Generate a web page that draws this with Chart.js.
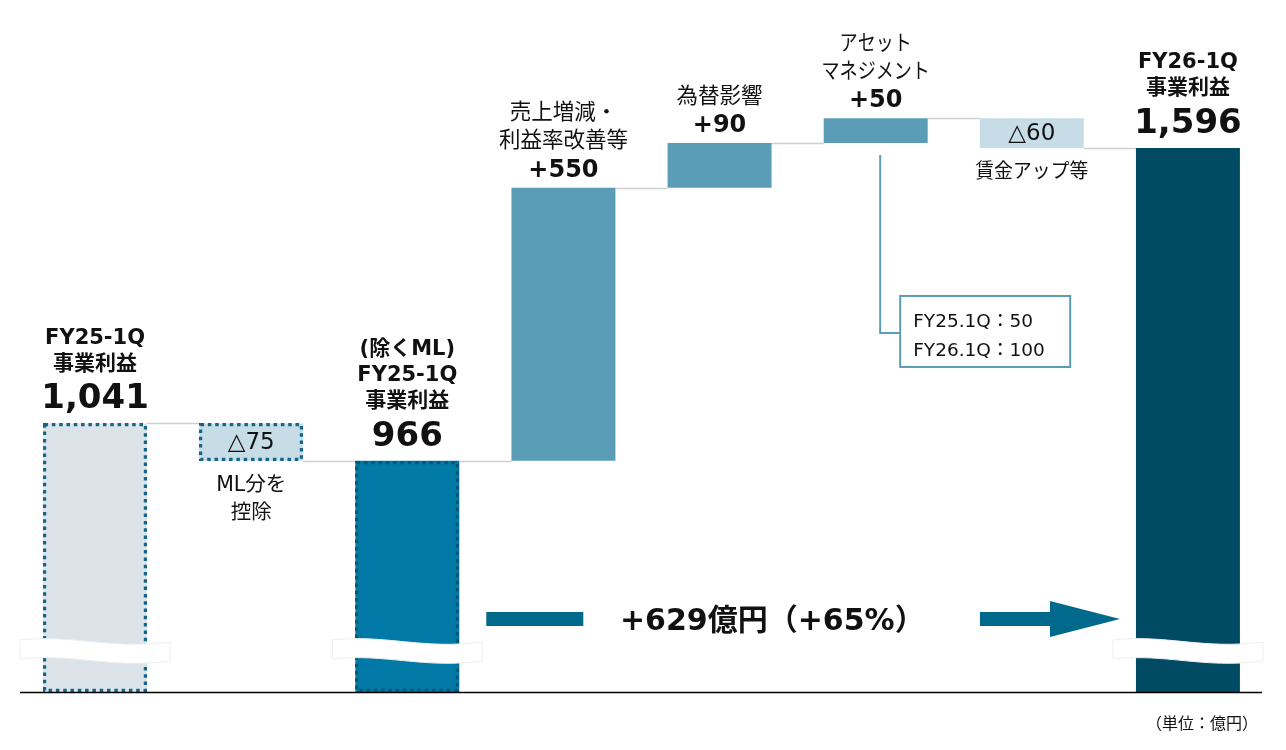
<!DOCTYPE html>
<html lang="ja">
<head>
<meta charset="utf-8">
<title>事業利益 増減要因</title>
<script src="https://cdn.jsdelivr.net/npm/chart.js@4.4.1/dist/chart.umd.min.js"></script>
<style>
  html, body { margin: 0; padding: 0; background: #fff; }
  #wrap { position: relative; width: 1286px; height: 750px; }
</style>
</head>
<body>
<div id="wrap"><canvas id="bridge"></canvas></div>
<script>
// 事業利益の増減（単位：億円）
const categories = ['FY25-1Q 事業利益', 'ML分を控除', '(除くML) FY25-1Q 事業利益', '売上増減・利益率改善等',
  '為替影響', 'アセットマネジメント', '賃金アップ等', 'FY26-1Q 事業利益'];
const amounts = [1041, -75, 966, 550, 90, 50, -60, 1596];
const isTotal = [true, false, true, false, false, false, false, true];
const headLines = [['FY25-1Q', '事業利益'], [], ['(除くML)', 'FY25-1Q', '事業利益'], ['売上増減・', '利益率改善等'],
  ['為替影響'], ['アセット', 'マネジメント'], [], ['FY26-1Q', '事業利益']];
const footLines = [[], ['ML分を', '控除'], [], [], [], [], ['賃金アップ等'], []];
const calloutLines = ['FY25.1Q：50', 'FY26.1Q：100'];
const growthLabel = '+629億円（+65%）';
const unitLabel = '（単位：億円）';
const axisFloor = 500;   // 軸は途中省略、ここから描く
const axisCeil = 1890;

// 積み上げ位置を計算
const ranges = [];
const levels = [];
let level = 0;
amounts.forEach((v, i) => {
  if (isTotal[i]) {
    ranges.push([axisFloor, v]);
    level = v;
  } else {
    ranges.push([level, level + v]);
    level += v;
  }
  levels.push(level);
});

const barColors = ['#dce4e9', '#c6dde7', '#0079a6', '#5b9cb6', '#5b9cb6', '#5b9cb6', '#c6dde7', '#004a64'];
const dotColors = ['#15658a', '#15658a', '#0a5676', null, null, null, null, null];
const FONT = '"DejaVu Sans", "Noto Sans CJK JP", sans-serif';

const fmtValue = (v, total) => total ? v.toLocaleString('en-US') : (v < 0 ? '△' + Math.abs(v) : '+' + v);

// カタカナは元資料のフォントより幅が広いので少し詰める
function drawText(ctx, str, x, y, size, bold, align) {
  ctx.font = (bold ? 'bold ' : '') + size + 'px ' + FONT;
  ctx.textAlign = align || 'center';
  ctx.textBaseline = 'middle';
  ctx.fillStyle = '#111';
  const kana = (str.match(/[\u30A1-\u30FA\u30FC]/g) || []).length;
  const sx = 1 - 0.16 * kana / str.length;
  ctx.save();
  ctx.translate(x, y);
  ctx.scale(sx, 1);
  ctx.fillText(str, 0, 0);
  ctx.restore();
}

function barBox(el) {
  const half = el.width / 2;
  return { l: el.x - half, r: el.x + half, t: Math.min(el.y, el.base), b: Math.max(el.y, el.base) };
}

const bridgeDecor = {
  id: 'bridgeDecor',
  beforeDatasetsDraw(chart) {
    const ctx = chart.ctx;
    const y = chart.scales.y;
    const bars = chart.getDatasetMeta(0).data;
    ctx.save();
    ctx.strokeStyle = '#cfcfcf';
    ctx.lineWidth = 1.5;
    for (let i = 0; i < bars.length - 1; i++) {
      const a = barBox(bars[i]), b = barBox(bars[i + 1]);
      const py = Math.round(y.getPixelForValue(levels[i])) + 0.5;
      ctx.beginPath();
      ctx.moveTo(a.r, py);
      ctx.lineTo(b.l, py);
      ctx.stroke();
    }
    ctx.restore();
  },
  afterDatasetsDraw(chart) {
    const ctx = chart.ctx;
    const area = chart.chartArea;
    const bars = chart.getDatasetMeta(0).data;
    ctx.save();

    // 点線の枠
    bars.forEach((el, i) => {
      if (!dotColors[i]) return;
      const bx = barBox(el);
      const l = Math.round(bx.l), t = Math.round(bx.t);
      const w = Math.round(bx.r) - l, h = Math.round(bx.b) - t;
      ctx.strokeStyle = dotColors[i];
      ctx.lineWidth = 3.2;
      ctx.setLineDash([3.5, 3.8]);
      ctx.strokeRect(l + 1.6, t + 1.6, w - 3.2, h - 3.2);
    });
    ctx.setLineDash([]);

    // 省略記号（波線）
    bars.forEach((el, i) => {
      if (!isTotal[i]) return;
      const x0 = el.x - 75, x1 = el.x + 75, w = x1 - x0;
      const t0 = area.bottom - 52, h = 19;
      ctx.beginPath();
      ctx.moveTo(x0, t0);
      ctx.bezierCurveTo(x0 + w * 0.35, t0 - 6, x0 + w * 0.6, t0 + 10, x1, t0 + 2);
      ctx.lineTo(x1, t0 + 2 + h);
      ctx.bezierCurveTo(x0 + w * 0.6, t0 + 10 + h, x0 + w * 0.35, t0 - 6 + h, x0, t0 + h);
      ctx.closePath();
      ctx.fillStyle = '#fff';
      ctx.fill();
      ctx.strokeStyle = '#eceff1';
      ctx.lineWidth = 1;
      ctx.stroke();
    });

    // 軸線
    ctx.strokeStyle = '#000';
    ctx.lineWidth = 1.5;
    ctx.beginPath();
    ctx.moveTo(area.left + 3, area.bottom + 0.5);
    ctx.lineTo(area.right - 4, area.bottom + 0.5);
    ctx.stroke();

    // ラベル
    bars.forEach((el, i) => {
      const bx = barBox(el);
      const total = isTotal[i];
      const label = fmtValue(amounts[i], total);
      const heads = headLines[i];
      if (total) {
        drawText(ctx, label, el.x, bx.t - 24, 34, true);
        heads.forEach((s, k) => drawText(ctx, s, el.x, bx.t - 59 - (heads.length - 1 - k) * 26, 21, true));
      } else if (amounts[i] < 0) {
        drawText(ctx, label, el.x, (bx.t + bx.b) / 2 + 1, 23, false);
        footLines[i].forEach((s, k) => drawText(ctx, s, el.x, bx.b + 25 + k * 28, 20.5, false));
      } else {
        drawText(ctx, label, el.x, bx.t - 17, 24, true);
        heads.forEach((s, k) => drawText(ctx, s, el.x, bx.t - 46 - (heads.length - 1 - k) * 28, 21.5, false));
      }
    });

    // 吹き出し（アセットマネジメント内訳）
    const am = barBox(bars[5]);
    const lx = bars[5].x + 4.5;
    const boxL = lx + 20, boxT = am.b + 153, boxW = 170, boxH = 71;
    ctx.strokeStyle = '#5b9cb6';
    ctx.lineWidth = 2;
    ctx.beginPath();
    ctx.moveTo(lx, am.b + 12);
    ctx.lineTo(lx, boxT + 37);
    ctx.lineTo(boxL, boxT + 37);
    ctx.stroke();
    ctx.strokeRect(boxL, boxT, boxW, boxH);
    calloutLines.forEach((s, k) => drawText(ctx, s, boxL + 13, boxT + 26 + k * 29, 18.5, false, 'left'));

    // 増加幅の矢印
    const from = barBox(bars[2]), to = barBox(bars[7]);
    const ay = area.bottom - 73;
    ctx.fillStyle = '#00698c';
    ctx.fillRect(from.r + 27, ay - 7, 97, 14);
    const tip = to.l - 16;
    ctx.beginPath();
    ctx.moveTo(tip - 140, ay - 7);
    ctx.lineTo(tip - 70, ay - 7);
    ctx.lineTo(tip - 70, ay - 18);
    ctx.lineTo(tip, ay);
    ctx.lineTo(tip - 70, ay + 18);
    ctx.lineTo(tip - 70, ay + 7);
    ctx.lineTo(tip - 140, ay + 7);
    ctx.closePath();
    ctx.fill();
    drawText(ctx, growthLabel, from.r + 313, ay + 3, 30, true);

    // 単位
    drawText(ctx, unitLabel, area.right - 8, area.bottom + 33, 16, false, 'right');
    ctx.restore();
  }
};

new Chart(document.getElementById('bridge'), {
  type: 'bar',
  data: {
    labels: categories,
    datasets: [{
      data: ranges,
      backgroundColor: barColors,
      borderWidth: 0,
      borderSkipped: false,
      barPercentage: 0.666,
      categoryPercentage: 1
    }]
  },
  options: {
    responsive: true,
    maintainAspectRatio: false,
    animation: false,
    layout: { padding: { left: 17, right: 20, top: 2, bottom: 58 } },
    plugins: {
      legend: { display: false },
      tooltip: { enabled: false }
    },
    scales: {
      x: { display: false },
      y: { display: false, min: axisFloor, max: axisCeil }
    }
  },
  plugins: [bridgeDecor]
});
</script>
</body>
</html>
